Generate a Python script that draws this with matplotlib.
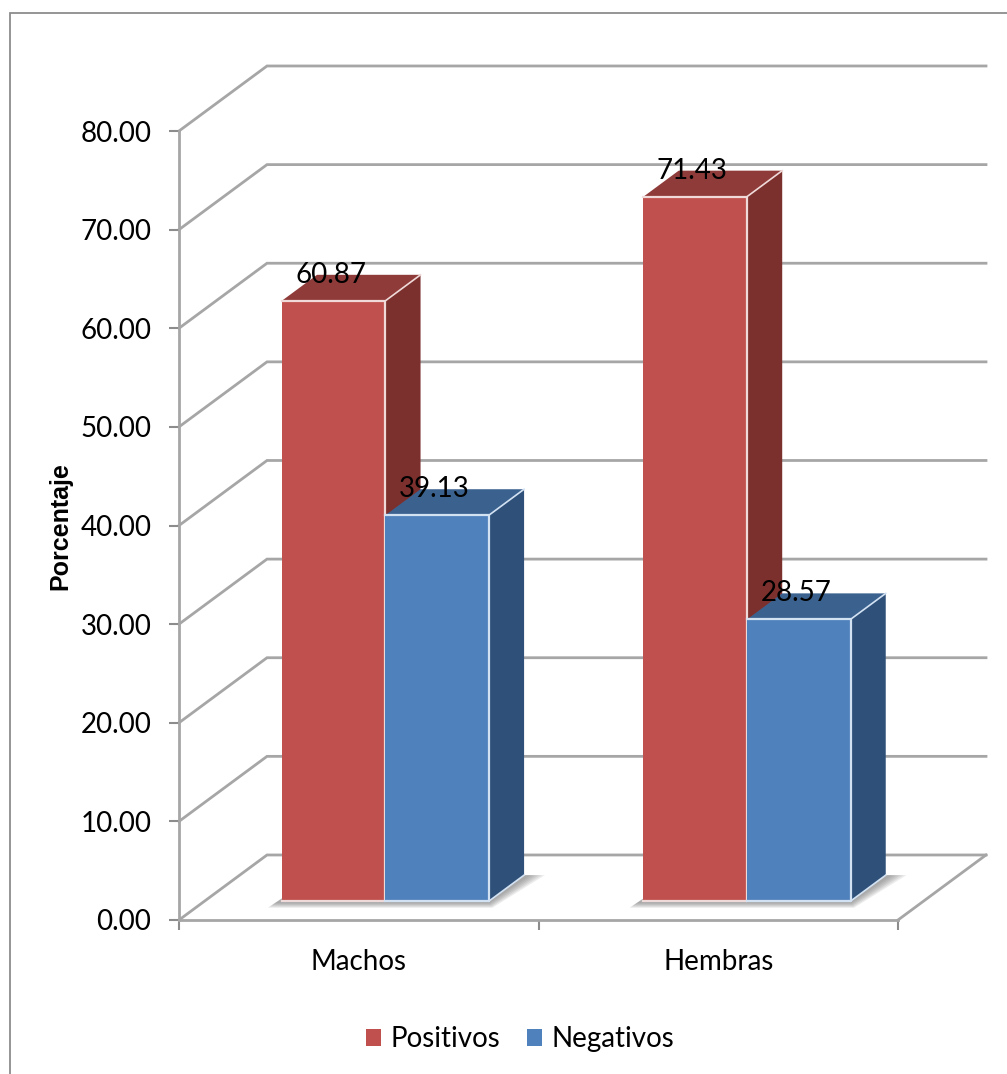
import matplotlib
matplotlib.use('Agg')
import matplotlib.pyplot as plt
from matplotlib.patches import Patch, Polygon, Rectangle

categories = ['Machos', 'Hembras']
positivos = [60.87, 71.43]
negativos = [39.13, 28.57]
y_ticks = [0, 10, 20, 30, 40, 50, 60, 70, 80]

W, H = 1007, 1074
GRAY = '#a6a6a6'
RED = ('#c0504d', '#8f3b39', '#7b302e', '#efdad9')
BLUE = ('#4f81bd', '#3b628f', '#2f5179', '#d3e2f3')

# how far the back wall sits from the front, in data units
DEPTH_X = 88 / 359.5
DEPTH_Y = 65 / 9.86
BAR_W = 0.288
BAR_D0 = 0.29
BAR_D1 = 0.69
GROUP_START = 0.503
GROUP_GAP = 1.006


def at_depth(x, y, d):
    return (x + d * DEPTH_X, y + d * DEPTH_Y)


def draw_bar(ax, x0, value, colors, z):
    x1 = x0 + BAR_W
    a = at_depth(x0, 0, BAR_D0)
    b = at_depth(x1, 0, BAR_D0)
    c = at_depth(x1, value, BAR_D0)
    d = at_depth(x0, value, BAR_D0)
    e = at_depth(x1, 0, BAR_D1)
    f = at_depth(x1, value, BAR_D1)
    g = at_depth(x0, value, BAR_D1)
    kw = dict(closed=True, clip_on=False, zorder=z, joinstyle='round')
    ax.add_patch(Polygon([d, c, f, g], facecolor=colors[1], edgecolor='none', **kw))
    ax.add_patch(Polygon([b, e, f, c], facecolor=colors[2], edgecolor='none', **kw))
    ax.add_patch(Polygon([a, b, c, d], facecolor=colors[0], edgecolor='none', **kw))
    # light bevel along the front edges and the near corner
    ax.plot([a[0], b[0], c[0], d[0]], [a[1], b[1], c[1], d[1]], color=colors[3], lw=1.6,
            clip_on=False, zorder=z)
    ax.plot([c[0], f[0]], [c[1], f[1]], color=colors[3], lw=1.2, clip_on=False, zorder=z)
    ax.plot([b[0], e[0]], [b[1], e[1]], color=colors[3], lw=1.2, clip_on=False, zorder=z)


def draw_shadow(ax, x0, x1):
    # soft shadow on the floor, built from stacked translucent shapes
    for i in range(6):
        s = 0.008 * (6 - i)
        pts = [at_depth(x0 - 0.015 - s * 0.5, -0.1 - s * 12, BAR_D0),
               at_depth(x1 + s * 0.2, -0.1 - s * 12, BAR_D0),
               at_depth(x1 + 0.01 + s, 0, BAR_D1),
               at_depth(x0, 0, BAR_D1)]
        ax.add_patch(Polygon(pts, closed=True, facecolor='#6e6e6e', alpha=0.13,
                             edgecolor='none', clip_on=False, zorder=2))


plt.rcParams['font.family'] = ['Lato', 'DejaVu Sans']
fig = plt.figure(figsize=(W / 100, H / 100), dpi=100)
ax = fig.add_axes([179 / W, 1 - 920 / H, (898 - 179) / W, (920 - 131) / H])
ax.set_xlim(0, 2)
ax.set_ylim(0, 80)
ax.patch.set_visible(False)

# outer chart border, runs off the right and bottom of the canvas
fig.add_artist(Rectangle((9.5 / W, -0.02), 1.1, 1.02 - 12.5 / H, transform=fig.transFigure,
                         fill=False, edgecolor='#8c8c8c', linewidth=1.3))

# back wall gridlines and the matching lines on the side wall
for v in y_ticks:
    back_l = at_depth(0, v, 1)
    back_r = at_depth(2, v, 1)
    ax.plot([0, back_l[0], back_r[0]], [v, back_l[1], back_r[1]], color=GRAY, lw=2,
            clip_on=False, zorder=1, solid_joinstyle='miter')

# floor edges
floor_r = at_depth(2, 0, 1)
ax.plot([2, floor_r[0]], [0, floor_r[1]], color=GRAY, lw=2, clip_on=False, zorder=1)

for spine in ['top', 'right']:
    ax.spines[spine].set_visible(False)
for spine in ['left', 'bottom']:
    ax.spines[spine].set_color(GRAY)
    ax.spines[spine].set_linewidth(2)

for i, cat in enumerate(categories):
    center = GROUP_START + i * GROUP_GAP
    left = center - BAR_W
    draw_shadow(ax, left, center + BAR_W)
    draw_bar(ax, left, positivos[i], RED, 3 + i * 2)
    draw_bar(ax, center, negativos[i], BLUE, 4 + i * 2)
    for x0, val in [(left, positivos[i]), (center, negativos[i])]:
        pos = at_depth(x0 + BAR_W / 2, val, BAR_D0)
        ax.annotate(f'{val:.2f}', pos, xytext=(-3, 26), textcoords='offset pixels',
                    ha='center', va='center', fontsize=20, color='black', zorder=10,
                    annotation_clip=False)

ax.set_yticks(y_ticks)
ax.set_yticklabels([f'{v:.2f}' for v in y_ticks], fontsize=20)
ax.set_xticks([0, 1, 2])
ax.set_xticklabels([])
ax.set_xticks([0.5, 1.5], labels=categories, minor=True, fontsize=20)
ax.tick_params(axis='x', which='major', length=7, width=1.5, color='#8c8c8c')
ax.tick_params(axis='x', which='minor', length=0, pad=21)
ax.tick_params(axis='y', length=7, width=1.5, color='#8c8c8c', pad=13)

fig.text(60 / W, 1 - 526 / H, 'Porcentaje', rotation=90, ha='center', va='center',
         fontsize=18, fontweight='bold', family=['Liberation Sans', 'DejaVu Sans'])

handles = [Patch(facecolor=RED[0], label='Positivos'), Patch(facecolor=BLUE[0], label='Negativos')]
fig.legend(handles=handles, loc='center', bbox_to_anchor=(520 / W, 1 - 1039 / H), ncol=2,
           frameon=False, fontsize=20, handlelength=0.55, handleheight=0.55,
           handletextpad=0.33, columnspacing=0.95)

fig.savefig('out.png', dpi=100)
